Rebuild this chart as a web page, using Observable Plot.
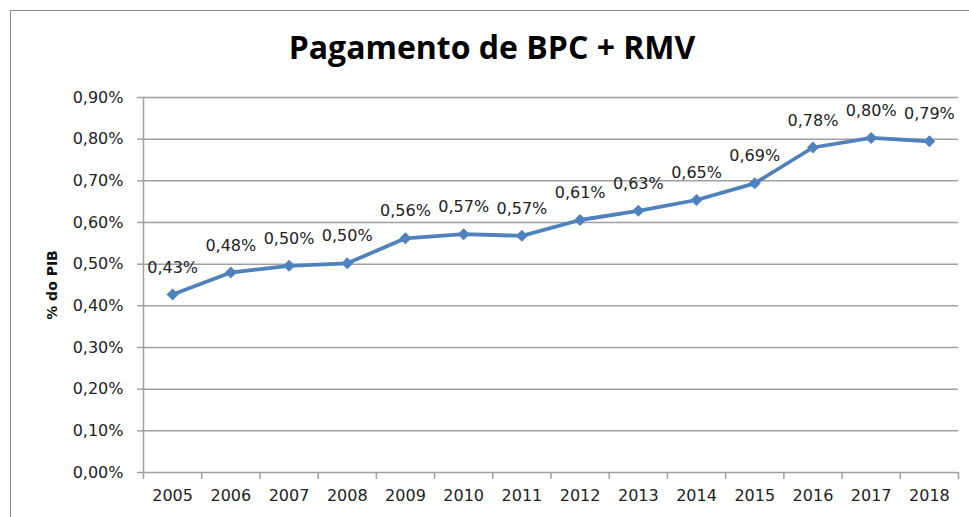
<!DOCTYPE html>
<html><head><meta charset="utf-8">
<script src="https://cdn.jsdelivr.net/npm/d3@7"></script>
<script src="https://cdn.jsdelivr.net/npm/@observablehq/plot@0.6"></script>
<style>
html,body{margin:0;padding:0;background:#fff;overflow:hidden;width:969px;height:517px}
#frame{position:absolute;left:10px;top:10px;width:1000px;height:600px;border:1.5px solid #8c8c8c;box-sizing:border-box}
#title{position:absolute;left:0;top:31px;width:984px;text-align:center;font-family:'Open Sans',sans-serif;font-weight:bold;font-size:32px;line-height:31px;color:#000;white-space:nowrap}
#ytitle{position:absolute;left:52px;top:285px;width:0;height:0;overflow:visible}
#ytitle span{position:absolute;left:0;top:0;transform:translate(-50%,-50%) rotate(-90deg);font-family:'DejaVu Sans',sans-serif;font-weight:bold;font-size:14px;line-height:16px;color:#111;white-space:nowrap}
#chart{position:absolute;left:0;top:80px}
</style></head>
<body>
<div id="frame"></div>
<div id="title">Pagamento de BPC + RMV</div>
<div id="chart"></div>
<div id="ytitle"><span></span></div>
<script>
const years = [2005,2006,2007,2008,2009,2010,2011,2012,2013,2014,2015,2016,2017,2018];
const values = [0.427,0.480,0.496,0.502,0.562,0.572,0.568,0.606,0.628,0.654,0.694,0.780,0.803,0.795];
const labels = ["0,43%","0,48%","0,50%","0,50%","0,56%","0,57%","0,57%","0,61%","0,63%","0,65%","0,69%","0,78%","0,80%","0,79%"];
const yTicks = [0,0.1,0.2,0.3,0.4,0.5,0.6,0.7,0.8,0.9];
const yTitle = "% do PIB";

const data = years.map((year, i) => ({year, value: values[i], label: labels[i]}));
const bounds = [...years.map(y => y - 0.5), years[years.length - 1] + 0.5];
const fmt = d => d.toFixed(2).replace(".", ",") + "%";
const blue = "#4f81bd";
const gray = "#a0a0a0";
const font = "'DejaVu Sans', sans-serif";

const chart = Plot.plot({
  width: 969, height: 437,
  marginLeft: 143, marginRight: 11, marginTop: 17, marginBottom: 45,
  style: {fontFamily: font, color: "#222", background: "transparent"},
  x: {type: "linear", domain: [bounds[0], bounds[bounds.length - 1]]},
  y: {domain: [0, 0.9]},
  marks: [
    Plot.gridY(yTicks, {stroke: gray, strokeOpacity: 1, strokeWidth: 1.5}),
    Plot.ruleX([bounds[0]], {stroke: gray, strokeWidth: 1.5}),
    Plot.axisY(yTicks, {tickSize: 6, tickPadding: 14, tickFormat: fmt, fontSize: 16, stroke: gray, strokeWidth: 1.5, fill: "#222", label: null}),
    Plot.axisX(bounds, {tickSize: 7, tickFormat: () => "", stroke: gray, strokeWidth: 1.5, label: null}),
    Plot.axisX(years, {tickSize: 0, tickPadding: 17, tickFormat: d => String(d), fontSize: 16, fill: "#222", label: null}),
    Plot.line(data, {x: "year", y: "value", stroke: blue, strokeWidth: 3.8}),
    Plot.dot(data, {x: "year", y: "value", symbol: "diamond2", r: 5.4, fill: blue, stroke: "none"}),
    Plot.text(data, {x: "year", y: "value", text: "label", dy: -27, fontSize: 16, fill: "#222"})
  ]
});
document.getElementById("chart").appendChild(chart);
document.querySelector("#ytitle span").textContent = yTitle;
</script>
</body></html>
